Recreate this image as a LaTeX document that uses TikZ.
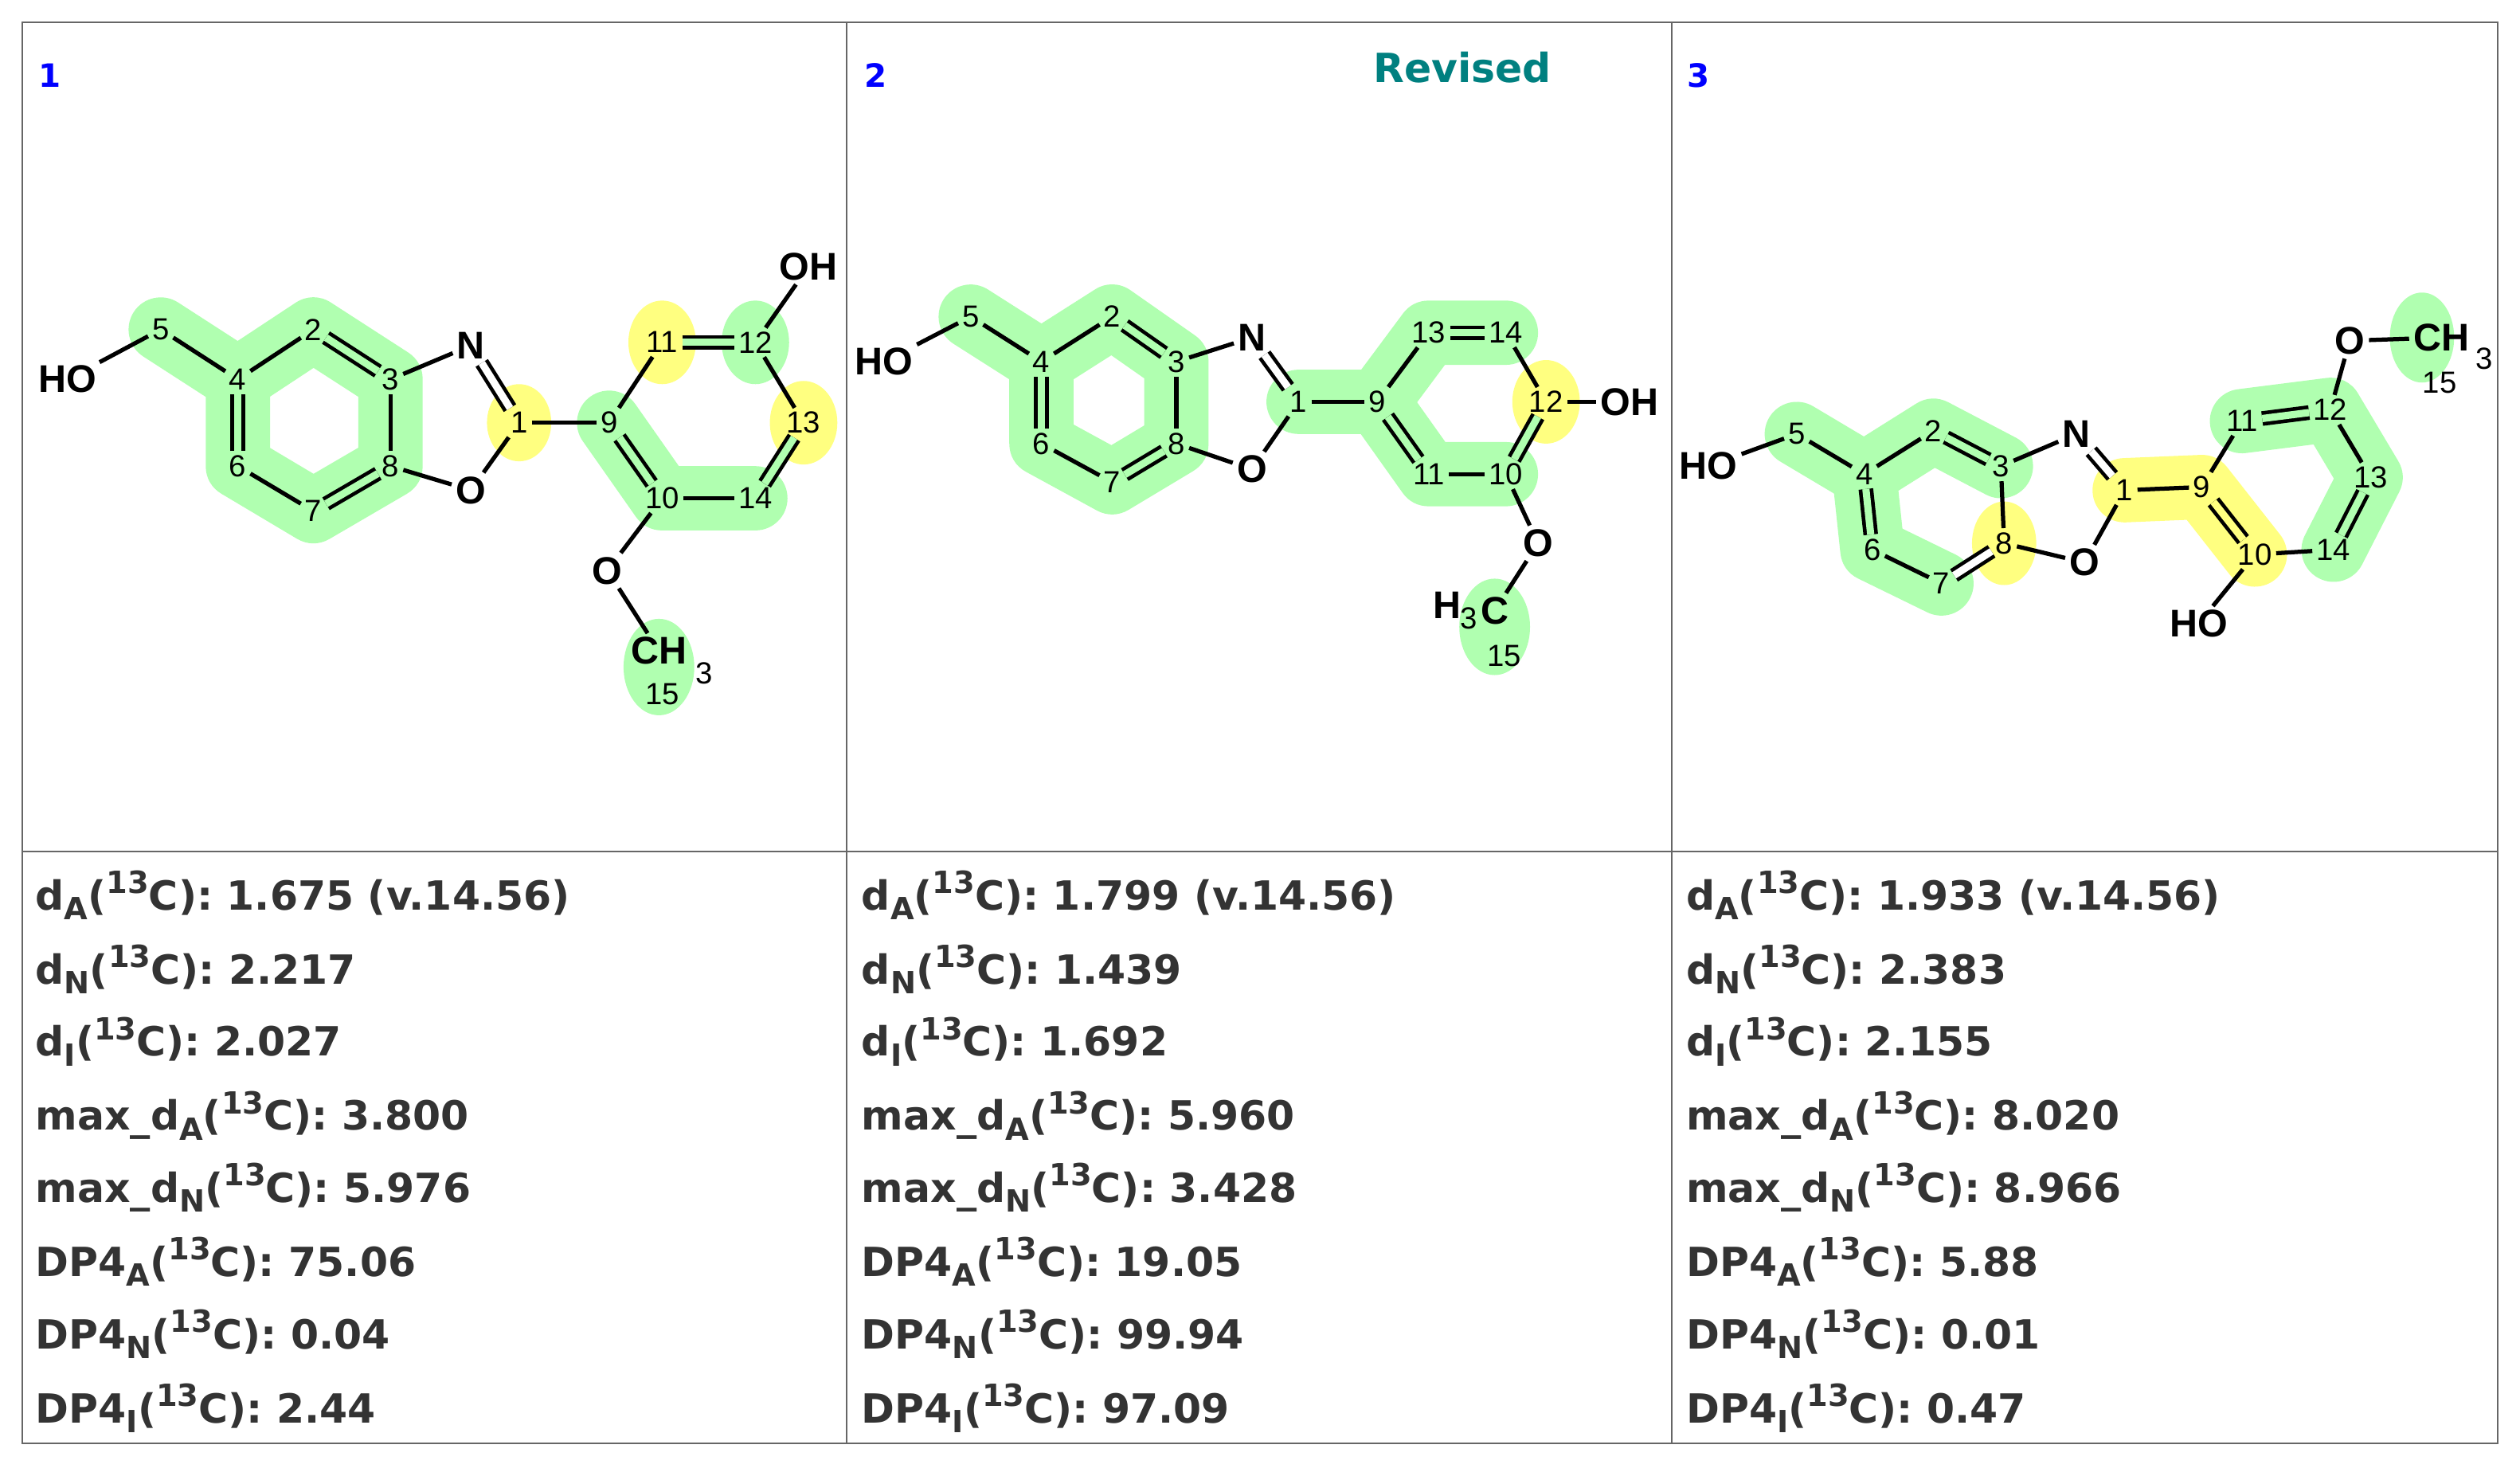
\documentclass[tikz,border=0pt]{standalone}
\usepackage{fontspec}
\setmainfont{Liberation Sans}
\newfontfamily\tabfont{DejaVu Sans}[BoldFont={DejaVu Sans Bold}]
\usetikzlibrary{backgrounds}
\definecolor{hg}{HTML}{B0FFB0}
\definecolor{hy}{HTML}{FFFF80}
\definecolor{tg}{HTML}{333333}
\newcommand\dsb[1]{\raisebox{-0.45ex}{\fontsize{19}{19}\selectfont #1}}
\newcommand\dsp[1]{\raisebox{0.75ex}{\fontsize{19}{19}\selectfont #1}}
\begin{document}
\begin{tikzpicture}[x=1pt,y=-1pt,
  atm/.style={inner sep=1.5pt,font=\bfseries\fontsize{24}{24}\selectfont},
  num/.style={inner sep=1.5pt,font=\fontsize{19}{19}\selectfont},
  bd/.style={line width=2.6pt,shorten <=1pt,shorten >=1pt},
  db/.style={bd,double=hg,double distance=4.5pt,line width=2.3pt},
  dbw/.style={bd,double=white,double distance=4.5pt,line width=2.3pt},
  hlg/.style={draw=hg,line width=40pt,line cap=round,line join=round},
  hly/.style={draw=hy,line width=40pt,line cap=round,line join=round},
  tabtxt/.style={anchor=west,inner sep=0pt,text=tg,font=\tabfont\bfseries\fontsize{25}{25}\selectfont},
  cid/.style={text=blue,font=\tabfont\bfseries\fontsize{20}{20}\selectfont}]
\useasboundingbox (0,0) rectangle (1568,918);
\draw[line width=1pt,draw=gray!80!black] (14,14) rectangle (1554,898);
\draw[line width=1pt,draw=gray!80!black] (14,530) -- (1554,530) (527,14) -- (527,898) (1040,14) -- (1040,898);
\node[cid] (l1) at (31,47) {1};
\node[cid] (l2) at (545,47) {2};
\node[cid] (l3) at (1057,47) {3};
\node[text={rgb,255:red,0;green,128;blue,128},font=\tabfont\bfseries\fontsize{25}{25}\selectfont] (rev) at (910,42) {Revised};
% ---------- molecule 1
\node[atm] (aHO) at (42,236) {HO};
\node[num] (a5) at (100,205) {5};
\node[num] (a4) at (148,236) {4};
\node[num] (a2) at (195,205) {2};
\node[num] (a3) at (243,236) {3};
\node[num] (a6) at (148,290) {6};
\node[num] (a7) at (195,318) {7};
\node[num] (a8) at (243,290) {8};
\node[atm] (aN) at (293,215) {N};
\node[atm] (aO) at (293,305) {O};
\node[num] (a1) at (323,263) {1};
\node[num] (a9) at (379,263) {9};
\node[num] (a11) at (412,213) {11};
\node[num] (a12) at (470,213) {12};
\node[atm] (aOH) at (503,166) {OH};
\node[num] (a13) at (500,263) {13};
\node[num] (a10) at (412,310) {10};
\node[num] (a14) at (470,310) {14};
\node[atm] (aO2) at (378,355) {O};
\node[atm] (aC) at (410,405) {CH};
\node[num] (a3s) at (438,419) {3};
\node[num] (a15) at (412,432) {15};
\begin{scope}[on background layer]
\draw[hlg] (a5.center) -- (a4.center) -- (a2.center) -- (a3.center) -- (a8.center) -- (a7.center) -- (a6.center) -- (a4.center);
\draw[hlg] (a9.center) -- (a10.center) -- (a14.center);
\fill[hy] (a1) ellipse (20 and 24);
\fill[hy] (a11) ellipse (21 and 26);
\fill[hy] (a13) ellipse (21 and 26);
\fill[hg] (a12) ellipse (21 and 26);
\fill[hg] ([yshift=-10]aC.center) ellipse (22 and 30);
\end{scope}
\draw[bd] (aHO) -- (a5); \draw[bd] (a5) -- (a4); \draw[bd] (a4) -- (a2);
\draw[db] (a2) -- (a3); \draw[bd] (a3) -- (a8); \draw[db] (a8) -- (a7);
\draw[bd] (a7) -- (a6); \draw[db] (a6) -- (a4); \draw[bd] (a3) -- (aN);
\draw[dbw] (aN) -- (a1); \draw[bd] (a1) -- (aO); \draw[bd] (aO) -- (a8);
\draw[bd] (a1) -- (a9); \draw[bd] (a9) -- (a11); \draw[db] (a11) -- (a12);
\draw[bd] (a12) -- (aOH); \draw[bd] (a12) -- (a13); \draw[db] (a13) -- (a14);
\draw[bd] (a14) -- (a10); \draw[db] (a10) -- (a9); \draw[bd] (a10) -- (aO2);
\draw[bd] (aO2) -- (aC);
% ---------- molecule 2
\node[atm] (bHO) at (550,225) {HO};
\node[num] (b5) at (604,197) {5};
\node[num] (b4) at (648,225) {4};
\node[num] (b2) at (692,197) {2};
\node[num] (b3) at (732,225) {3};
\node[num] (b6) at (648,276) {6};
\node[num] (b7) at (692,300) {7};
\node[num] (b8) at (732,276) {8};
\node[atm] (bN) at (779,210) {N};
\node[atm] (bO) at (779,292) {O};
\node[num] (b1) at (808,250) {1};
\node[num] (b9) at (857,250) {9};
\node[num] (b13) at (889,207) {13};
\node[num] (b14) at (937,207) {14};
\node[num] (b12) at (962,250) {12};
\node[atm] (bOH) at (1014,250) {OH};
\node[num] (b11) at (889,295) {11};
\node[num] (b10) at (937,295) {10};
\node[atm] (bO2) at (957,338) {O};
\node[atm] (bC) at (930,380) {C};
\node[atm,anchor=east,inner sep=0pt] (bH) at (bC.west) {H\raisebox{-0.5ex}{\fontsize{19}{19}\mdseries\selectfont 3}};
\node[num] (b15) at (936,408) {15};
\begin{scope}[on background layer]
\draw[hlg] (b5.center) -- (b4.center) -- (b2.center) -- (b3.center) -- (b8.center) -- (b7.center) -- (b6.center) -- (b4.center);
\draw[hlg] (b1.center) -- (b9.center) -- (b13.center) -- (b14.center);
\draw[hlg] (b9.center) -- (b11.center) -- (b10.center);
\fill[hy] (b12) ellipse (21 and 26);
\fill[hg] ([yshift=-10]bC.center) ellipse (22 and 30);
\end{scope}
\draw[bd] (bHO) -- (b5); \draw[bd] (b5) -- (b4); \draw[bd] (b4) -- (b2);
\draw[db] (b2) -- (b3); \draw[bd] (b3) -- (b8); \draw[db] (b8) -- (b7);
\draw[bd] (b7) -- (b6); \draw[db] (b6) -- (b4); \draw[bd] (b3) -- (bN);
\draw[dbw] (bN) -- (b1); \draw[bd] (b1) -- (bO); \draw[bd] (bO) -- (b8);
\draw[bd] (b1) -- (b9); \draw[bd] (b9) -- (b13); \draw[db] (b13) -- (b14);
\draw[bd] (b14) -- (b12); \draw[bd] (b12) -- (bOH); \draw[db] (b12) -- (b10);
\draw[bd] (b10) -- (b11); \draw[db] (b11) -- (b9); \draw[bd] (b10) -- (bO2);
\draw[bd] (bO2) -- (bC);
% ---------- molecule 3
\node[atm] (cHO) at (1063,290) {HO};
\node[num] (c5) at (1118,270) {5};
\node[num] (c4) at (1160,295) {4};
\node[num] (c2) at (1203,268) {2};
\node[num] (c3) at (1245,290) {3};
\node[num] (c6) at (1165,342) {6};
\node[num] (c7) at (1208,363) {7};
\node[num] (c8) at (1247,338) {8};
\node[atm] (cN) at (1292,270) {N};
\node[atm] (cO) at (1297,350) {O};
\node[num] (c1) at (1322,305) {1};
\node[num] (c9) at (1370,303) {9};
\node[num] (c11) at (1395,262) {11};
\node[num] (c12) at (1450,255) {12};
\node[atm] (cO2) at (1462,212) {O};
\node[atm] (cC) at (1519,210) {CH};
\node[num] (c3s) at (1546,223) {3};
\node[num] (c15) at (1518,238) {15};
\node[num] (c13) at (1475,297) {13};
\node[num] (c14) at (1452,342) {14};
\node[num] (c10) at (1403,345) {10};
\node[atm] (cHO2) at (1368,388) {HO};
\begin{scope}[on background layer]
\draw[hlg] (c5.center) -- (c4.center) -- (c2.center) -- (c3.center);
\draw[hlg] (c4.center) -- (c6.center) -- (c7.center);
\draw[hly] (c1.center) -- (c9.center) -- (c10.center);
\draw[hlg] (c11.center) -- (c12.center) -- (c13.center) -- (c14.center);
\fill[hy] (c8) ellipse (20 and 26);
\fill[hg] ([xshift=-12]cC.center) ellipse (20 and 28);
\end{scope}
\draw[bd] (cHO) -- (c5); \draw[bd] (c5) -- (c4); \draw[bd] (c4) -- (c2);
\draw[db] (c2) -- (c3); \draw[bd] (c3) -- (c8); \draw[dbw] (c8) -- (c7);
\draw[bd] (c7) -- (c6); \draw[db] (c6) -- (c4); \draw[bd] (c3) -- (cN);
\draw[dbw] (cN) -- (c1); \draw[bd] (c1) -- (cO); \draw[bd] (cO) -- (c8);
\draw[bd] (c1) -- (c9); \draw[bd] (c9) -- (c11); \draw[db] (c11) -- (c12);
\draw[bd] (c12) -- (cO2); \draw[bd] (cO2) -- (cC); \draw[bd] (c12) -- (c13);
\draw[db] (c13) -- (c14); \draw[bd] (c14) -- (c10);
\draw[bd,double=hy,double distance=4.5pt,line width=2.3pt] (c10) -- (c9);
\draw[bd] (c10) -- (cHO2);
% ---------- table
\node[tabtxt] (t11) at (22,557) {d\dsb{A}(\dsp{13}C): 1.675 (v.14.56)};
\node[tabtxt] (t12) at (22,603) {d\dsb{N}(\dsp{13}C): 2.217};
\node[tabtxt] (t13) at (22,648) {d\dsb{I}(\dsp{13}C): 2.027};
\node[tabtxt] (t14) at (22,694) {max\_d\dsb{A}(\dsp{13}C): 3.800};
\node[tabtxt] (t15) at (22,739) {max\_d\dsb{N}(\dsp{13}C): 5.976};
\node[tabtxt] (t16) at (22,785) {DP4\dsb{A}(\dsp{13}C): 75.06};
\node[tabtxt] (t17) at (22,830) {DP4\dsb{N}(\dsp{13}C): 0.04};
\node[tabtxt] (t18) at (22,876) {DP4\dsb{I}(\dsp{13}C): 2.44};
\node[tabtxt] (t21) at (536,557) {d\dsb{A}(\dsp{13}C): 1.799 (v.14.56)};
\node[tabtxt] (t22) at (536,603) {d\dsb{N}(\dsp{13}C): 1.439};
\node[tabtxt] (t23) at (536,648) {d\dsb{I}(\dsp{13}C): 1.692};
\node[tabtxt] (t24) at (536,694) {max\_d\dsb{A}(\dsp{13}C): 5.960};
\node[tabtxt] (t25) at (536,739) {max\_d\dsb{N}(\dsp{13}C): 3.428};
\node[tabtxt] (t26) at (536,785) {DP4\dsb{A}(\dsp{13}C): 19.05};
\node[tabtxt] (t27) at (536,830) {DP4\dsb{N}(\dsp{13}C): 99.94};
\node[tabtxt] (t28) at (536,876) {DP4\dsb{I}(\dsp{13}C): 97.09};
\node[tabtxt] (t31) at (1049,557) {d\dsb{A}(\dsp{13}C): 1.933 (v.14.56)};
\node[tabtxt] (t32) at (1049,603) {d\dsb{N}(\dsp{13}C): 2.383};
\node[tabtxt] (t33) at (1049,648) {d\dsb{I}(\dsp{13}C): 2.155};
\node[tabtxt] (t34) at (1049,694) {max\_d\dsb{A}(\dsp{13}C): 8.020};
\node[tabtxt] (t35) at (1049,739) {max\_d\dsb{N}(\dsp{13}C): 8.966};
\node[tabtxt] (t36) at (1049,785) {DP4\dsb{A}(\dsp{13}C): 5.88};
\node[tabtxt] (t37) at (1049,830) {DP4\dsb{N}(\dsp{13}C): 0.01};
\node[tabtxt] (t38) at (1049,876) {DP4\dsb{I}(\dsp{13}C): 0.47};
\end{tikzpicture}
\end{document}
